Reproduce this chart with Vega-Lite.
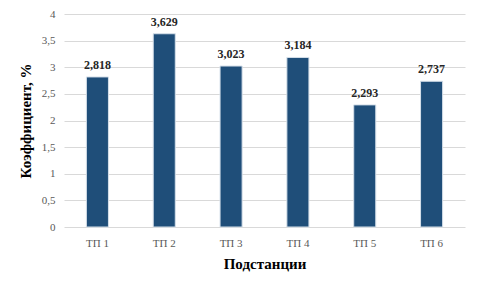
{
  "$schema": "https://vega.github.io/schema/vega-lite/v6.json",
  "autosize": {"type": "none"},
  "padding": {"left": 64, "top": 14, "right": 15, "bottom": 62},
  "width": 401,
  "height": 213,
  "background": "white",
  "config": {
    "locale": {"number": {"decimal": ",", "thousands": " ", "grouping": [3], "currency": ["", ""]}},
    "view": {"stroke": null},
    "font": "Liberation Serif"
  },
  "data": {
    "values": [
      {"station": "ТП 1", "value": 2.818},
      {"station": "ТП 2", "value": 3.629},
      {"station": "ТП 3", "value": 3.023},
      {"station": "ТП 4", "value": 3.184},
      {"station": "ТП 5", "value": 2.293},
      {"station": "ТП 6", "value": 2.737}
    ]
  },
  "encoding": {
    "x": {
      "field": "station",
      "type": "nominal",
      "sort": null,
      "scale": {"paddingInner": 0.67, "paddingOuter": 0.335},
      "axis": {
        "title": "Подстанции",
        "titleFont": "Liberation Serif",
        "titleFontSize": 15,
        "titleFontWeight": "bold",
        "titleColor": "#000000",
        "titlePadding": 8,
        "labelAngle": 0,
        "labelFont": "Liberation Serif",
        "labelFontSize": 11,
        "labelColor": "#595959",
        "labelPadding": 10,
        "ticks": false,
        "domain": false
      }
    },
    "y": {
      "field": "value",
      "type": "quantitative",
      "scale": {"domain": [0, 4], "nice": false},
      "axis": {
        "title": "Коэффициент, %",
        "titleFont": "Liberation Serif",
        "titleFontSize": 15,
        "titleFontWeight": "bold",
        "titleColor": "#000000",
        "titlePadding": 8,
        "values": [0, 0.5, 1, 1.5, 2, 2.5, 3, 3.5, 4],
        "format": ".1~f",
        "labelFont": "Liberation Serif",
        "labelFontSize": 11,
        "labelColor": "#595959",
        "labelPadding": 9,
        "ticks": false,
        "domain": false,
        "grid": true,
        "gridColor": "#d9d9d9",
        "gridWidth": 1
      }
    }
  },
  "layer": [
    {
      "mark": {"type": "bar", "color": "#1f4e79", "stroke": "#d6e0ea", "strokeWidth": 1}
    },
    {
      "mark": {"type": "text", "baseline": "bottom", "dy": -5, "font": "Liberation Serif", "fontSize": 12, "fontWeight": "bold", "color": "#262626"},
      "encoding": {
        "text": {"field": "value", "type": "quantitative", "format": ".3f"}
      }
    }
  ]
}
